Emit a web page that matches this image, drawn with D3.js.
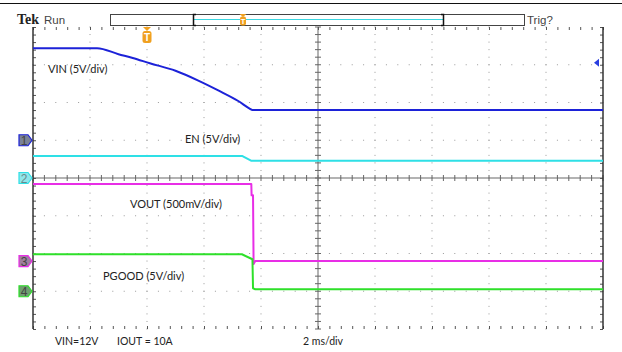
<!DOCTYPE html>
<html><head><meta charset="utf-8">
<script src="https://cdn.jsdelivr.net/npm/d3@7/dist/d3.min.js"></script>
<style>body{margin:0;background:#fff;}svg{display:block;}</style>
</head><body><svg id="c" width="622" height="352"></svg>
<script>
// time in ms (2 ms/div, centre = 0), values in volts
const vinT = [-10, -7.75, -7.0, -6.5, -5.9, -5.0, -4.2, -3.5, -2.8, -2.4, -2.3, 10];
const vinV = [12.2, 12.2, 11.4, 10.9, 10.2, 9.2, 7.9, 6.6, 5.2, 4.2, 4.0, 4.0];
const enT = [-10, -2.65, -2.35, 10];
const enV = [2.9, 2.9, 2.3, 2.3];
const voutT = [-10, -2.34, -2.33, -2.28, -2.26, -2.2, 10];
const voutV = [1.02, 1.02, 0.87, 0.87, -0.04, 0.0, 0.0];
const pgT = [-10, -2.67, -2.3, -2.28, -2.2, 10];
const pgV = [4.9, 4.9, 4.24, 0.4, 0.26, 0.26];
const channels = [
  {id: "1", label: "VIN (5V/div)", voltsPerDiv: 5, groundDiv: 1.0, t: vinT, v: vinV, smooth: true},
  {id: "2", label: "EN (5V/div)", voltsPerDiv: 5, groundDiv: 0.0, t: enT, v: enV},
  {id: "3", label: "VOUT (500mV/div)", voltsPerDiv: 0.5, groundDiv: -2.2, t: voutT, v: voutV},
  {id: "4", label: "PGOOD (5V/div)", voltsPerDiv: 5, groundDiv: -3.0, t: pgT, v: pgV}
];
const footerTexts = ["VIN=12V", "IOUT = 10A", "2 ms/div"];

const colors = {"1": "#1c22d8", "2": "#2ee0e6", "3": "#e82ee6", "4": "#2ee02a"};
const markerFill = {"1": "#7a8296", "2": "#8fe6ea", "3": "#a0809e", "4": "#6f9e70"};

const svg = d3.select("#c");
const L = 33, R = 603, T = 27, B = 329;
const x = d3.scaleLinear().domain([-10, 10]).range([L, R]);
const y = d3.scaleLinear().domain([-4, 4]).range([B, T]);

// header line
svg.append("line").attr("x1", 0).attr("x2", 622).attr("y1", 3.5).attr("y2", 3.5).attr("stroke", "#111").attr("stroke-width", 1);

const majorX = d3.range(-10, 10.001, 2);
const majorY = d3.range(-4, 4.001, 1);
const minorX = d3.range(-10, 10.001, 0.4);
const minorY = d3.range(-4, 4.001, 0.2);

const g = svg.append("g");
// dotted grid
majorX.slice(1, -1).forEach(tx => {
  if (tx === 0) return;
  g.selectAll(null).data(minorY).enter().append("rect")
    .attr("x", x(tx) - 0.5).attr("y", d => y(d) - 0.5).attr("width", 1).attr("height", 1).attr("fill", "#9a9a9a");
});
majorY.slice(1, -1).forEach(ty => {
  if (ty === 0) return;
  g.selectAll(null).data(minorX).enter().append("rect")
    .attr("x", d => x(d) - 0.5).attr("y", y(ty) - 0.5).attr("width", 1).attr("height", 1).attr("fill", "#9a9a9a");
});
// centre cross
g.append("line").attr("x1", L).attr("x2", R).attr("y1", y(0)).attr("y2", y(0)).attr("stroke", "#9a9a9a").attr("stroke-width", 1.5);
g.append("line").attr("x1", x(0)).attr("x2", x(0)).attr("y1", T).attr("y2", B).attr("stroke", "#9a9a9a").attr("stroke-width", 1.5);
g.selectAll(null).data(minorX).enter().append("line")
  .attr("x1", d => x(d)).attr("x2", d => x(d)).attr("y1", y(0) - 3).attr("y2", y(0) + 3).attr("stroke", "#666");
g.selectAll(null).data(minorY).enter().append("line")
  .attr("y1", d => y(d)).attr("y2", d => y(d)).attr("x1", x(0) - 3).attr("x2", x(0) + 3).attr("stroke", "#666");

// border ticks via d3 axes
const tickFmt = () => "";
const styleAxis = a => { a.select(".domain").remove(); a.selectAll("line").attr("stroke", "#555"); };
svg.append("g").attr("transform", `translate(0,${T})`).call(d3.axisBottom(x).tickValues(minorX).tickSize(3).tickFormat(tickFmt)).call(styleAxis);
svg.append("g").attr("transform", `translate(0,${B})`).call(d3.axisTop(x).tickValues(minorX).tickSize(3).tickFormat(tickFmt)).call(styleAxis);
svg.append("g").attr("transform", `translate(${L},0)`).call(d3.axisRight(y).tickValues(minorY).tickSize(3).tickFormat(tickFmt)).call(styleAxis);
svg.append("g").attr("transform", `translate(${R},0)`).call(d3.axisLeft(y).tickValues(minorY).tickSize(3).tickFormat(tickFmt)).call(styleAxis);
// border
svg.append("line").attr("x1", L).attr("x2", L).attr("y1", T).attr("y2", B).attr("stroke", "#333").attr("stroke-width", 1.5);
svg.append("line").attr("x1", R).attr("x2", R).attr("y1", T).attr("y2", B).attr("stroke", "#333").attr("stroke-width", 1.5);

// traces
channels.forEach(ch => {
  const pts = ch.t.map((t, i) => [t, ch.v[i] / ch.voltsPerDiv + ch.groundDiv]);
  const line = d3.line().x(d => x(d[0])).y(d => y(d[1]));
  if (ch.smooth) line.curve(d3.curveMonotoneX);
  svg.append("path").datum(pts).attr("d", line)
    .attr("fill", "none").attr("stroke", colors[ch.id]).attr("stroke-width", 2).attr("stroke-linejoin", "round");
});

// channel ground markers
channels.forEach(ch => {
  const cy = y(ch.groundDiv);
  const mg = svg.append("g").attr("transform", `translate(19,${cy})`);
  mg.append("path").attr("d", "M0,-5.5 L9,-5.5 L13,0 L9,5.5 L0,5.5 Z")
    .attr("fill", markerFill[ch.id]).attr("stroke", colors[ch.id]).attr("stroke-width", 1.2);
  mg.append("text").attr("x", 5).attr("y", 4.5).attr("text-anchor", "middle")
    .attr("font-family", "Liberation Sans, sans-serif").attr("font-size", 12)
    .attr("fill", ch.id === "2" ? "#6a8a8c" : "#444").text(ch.id);
});

// trigger level arrow (right)
svg.append("path").attr("d", `M${R - 9},${y(3.05)} L${R - 4},${y(3.05) - 4} L${R - 4},${y(3.05) + 4} Z`).attr("fill", "#2a3ee0");

// channel labels
const labelPos = [[48, 73], [185, 143], [130, 208], [103, 280]];
channels.forEach((ch, i) => {
  svg.append("text").attr("x", labelPos[i][0]).attr("y", labelPos[i][1])
    .attr("font-family", "Lato, sans-serif").attr("font-size", 11).attr("fill", "#222").text(ch.label);
});

// header
svg.append("text").attr("x", 17).attr("y", 24).attr("font-family", "Liberation Serif, serif").attr("font-weight", "bold")
  .attr("font-size", 14).attr("fill", "#222").text("Tek");
svg.append("text").attr("x", 44).attr("y", 24).attr("font-family", "Liberation Sans Narrow, Liberation Sans, sans-serif")
  .attr("font-size", 11.5).attr("fill", "#444").text("Run");
svg.append("rect").attr("x", 110.5).attr("y", 14.5).attr("width", 414).attr("height", 11).attr("fill", "#fff").attr("stroke", "#444");
svg.append("line").attr("x1", 194).attr("x2", 443).attr("y1", 19.5).attr("y2", 19.5).attr("stroke", "#3ad6e0").attr("stroke-width", 1);
svg.append("path").attr("d", "M196,14.5 L193.5,14.5 L193.5,25.5 L196,25.5").attr("fill", "none").attr("stroke", "#111").attr("stroke-width", 1.5);
svg.append("path").attr("d", "M441,14.5 L443.5,14.5 L443.5,25.5 L441,25.5").attr("fill", "none").attr("stroke", "#111").attr("stroke-width", 1.5);
svg.append("text").attr("x", 527).attr("y", 24).attr("font-family", "Liberation Sans Narrow, Liberation Sans, sans-serif")
  .attr("font-size", 11.5).attr("fill", "#444").text("Trig?");
// trigger marker in record bar
const tb = svg.append("g").attr("transform", "translate(243,14)");
tb.append("path").attr("d", "M-3.5,0 L3.5,0 L0,3 Z").attr("fill", "#f0a020");
tb.append("rect").attr("x", -3).attr("y", 2.5).attr("width", 6).attr("height", 9).attr("rx", 2).attr("fill", "#f0a020");
tb.append("text").attr("x", 0).attr("y", 10).attr("text-anchor", "middle").attr("font-size", 7.5).attr("font-family", "Liberation Sans, sans-serif").attr("font-weight", "bold").attr("fill", "#fff").text("T");
// trigger position marker
const tm = svg.append("g").attr("transform", `translate(${x(-6)},${T})`);
tm.append("path").attr("d", "M-4,0 L4,0 L0,4 Z").attr("fill", "#f0a020");
tm.append("rect").attr("x", -4.5).attr("y", 4).attr("width", 9).attr("height", 12).attr("rx", 2.5).attr("fill", "#f0a020");
tm.append("text").attr("x", 0).attr("y", 14).attr("text-anchor", "middle").attr("font-size", 10).attr("font-family", "Liberation Sans, sans-serif").attr("font-weight", "bold").attr("fill", "#fff").text("T");

// footer
const footerX = [55, 117, 303];
footerTexts.forEach((s, i) => {
  svg.append("text").attr("x", footerX[i]).attr("y", 345).attr("font-family", "Lato, sans-serif").attr("font-size", 10.5).attr("fill", "#222").text(s);
});
</script></body></html>
